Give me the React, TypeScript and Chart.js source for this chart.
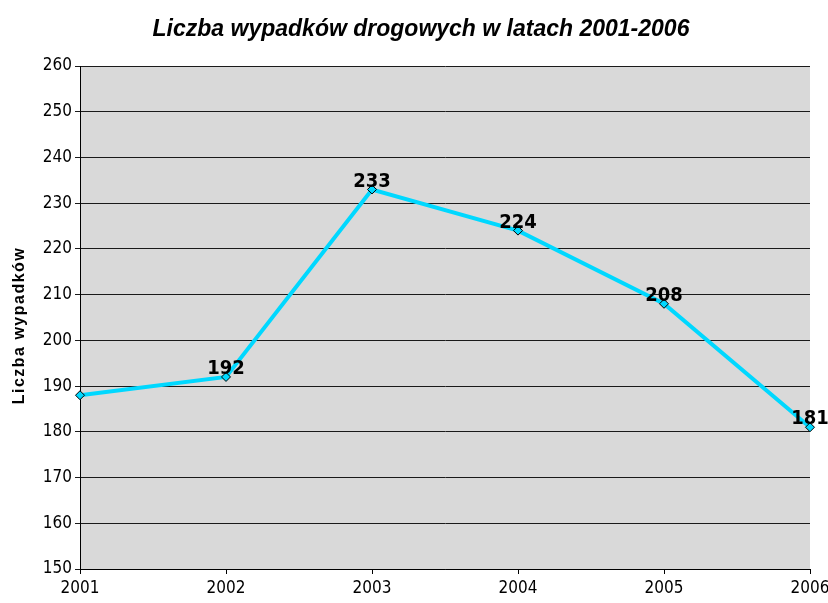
import React, { useEffect, useRef } from "react";
import { Chart, registerables } from "chart.js";

Chart.register(...registerables);

const years = ["2001", "2002", "2003", "2004", "2005", "2006"];
const accidents = [188, 192, 233, 224, 208, 181];
const showLabel = [false, true, true, true, true, true];
const chartTitle = "Liczba wypadków drogowych w latach 2001-2006";
const yAxisTitle = "Liczba wypadków";

const NARROW = '"DejaVu Sans Condensed", "Liberation Sans Narrow", "Arial Narrow", Arial, sans-serif';
const SANS = '"Liberation Sans", Arial, sans-serif';

export default function App() {
  const ref = useRef<HTMLCanvasElement>(null);

  useEffect(() => {
    document.body.style.margin = "0";
    const bgPlugin = {
      id: "plotBg",
      beforeDraw(chart: any) {
        const { ctx, chartArea } = chart;
        ctx.save();
        ctx.fillStyle = "#D9D9D9";
        ctx.fillRect(chartArea.left, chartArea.top, chartArea.right - chartArea.left, chartArea.bottom - chartArea.top);
        ctx.restore();
      },
    };
    const labelPlugin = {
      id: "valueLabels",
      afterDatasetsDraw(chart: any) {
        const { ctx, chartArea } = chart;
        const meta = chart.getDatasetMeta(0);
        ctx.save();
        ctx.font = `bold 20px ${NARROW}`;
        ctx.fillStyle = "#000";
        ctx.textAlign = "center";
        ctx.textBaseline = "bottom";
        meta.data.forEach((pt: any, i: number) => {
          if (!showLabel[i]) return;
          ctx.fillText(String(accidents[i]), pt.x, pt.y + 2);
        });
        ctx.restore();
        // chart title
        ctx.save();
        ctx.font = `italic bold 23px ${SANS}`;
        ctx.fillStyle = "#000";
        ctx.textAlign = "center";
        ctx.textBaseline = "middle";
        ctx.fillText(chartTitle, 421, 30);
        ctx.restore();
        // y axis title with letter spacing
        ctx.save();
        ctx.font = `bold 16px ${SANS}`;
        (ctx as any).letterSpacing = "1.5px";
        ctx.fillStyle = "#000";
        ctx.textAlign = "center";
        ctx.textBaseline = "middle";
        ctx.translate(20, (chartArea.top + chartArea.bottom) / 2 + 8);
        ctx.rotate(-Math.PI / 2);
        ctx.fillText(yAxisTitle, 0, 0);
        ctx.restore();
      },
    };
    const chart = new Chart(ref.current!, {
      type: "line",
      data: {
        labels: years,
        datasets: [
          {
            data: accidents,
            borderColor: "#00D8FF",
            borderWidth: 4,
            pointStyle: "rectRot",
            pointRadius: 4.5,
            pointBackgroundColor: "#00D8FF",
            pointBorderColor: "#000",
            pointBorderWidth: 1,
            tension: 0,
          },
        ],
      },
      options: {
        animation: false,
        responsive: false,
        maintainAspectRatio: false,
        layout: { padding: { left: 0, right: 0, top: 66, bottom: 0 } },
        plugins: {
          legend: { display: false },
          tooltip: { enabled: false },
          title: { display: false },
        },
        scales: {
          x: {
            offset: false,
            afterFit(scale: any) {
              scale.height = 34;
              scale.paddingRight = 18;
              scale.paddingLeft = 0;
            },
            grid: { display: true, drawOnChartArea: false, color: "#000", tickLength: 5 },
            border: { color: "#000", width: 1 },
            ticks: { color: "#000", font: { family: NARROW, size: 17 }, padding: 4, maxRotation: 0 },
          },
          y: {
            min: 150,
            max: 260,
            afterFit(scale: any) {
              scale.width = 80;
              scale.paddingTop = 0;
              scale.paddingBottom = 0;
            },
            grid: { color: "#1a1a1a", tickLength: 5 },
            border: { color: "#000", width: 1 },
            ticks: { stepSize: 10, color: "#000", font: { family: NARROW, size: 17 }, padding: 3 },
          },
        },
      },
      plugins: [bgPlugin, labelPlugin],
    });
    return () => chart.destroy();
  }, []);

  return (
    <div style={{ position: "absolute", left: 0, top: 0, width: 828, height: 603, background: "#fff" }}>
      <canvas ref={ref} width={828} height={603} style={{ width: 828, height: 603 }} />
    </div>
  );
}
